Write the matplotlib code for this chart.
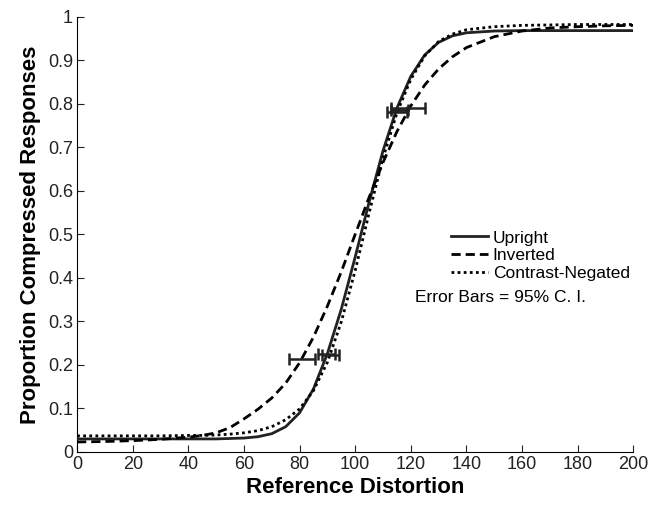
import matplotlib
matplotlib.use("Agg")
import matplotlib.pyplot as plt

plt.rcParams["font.family"] = ["Liberation Sans", "DejaVu Sans"]

# ── data ──────────────────────────────────────────────────────────────────────
distortion = [0, 10, 20, 30, 40, 45, 50, 55, 60, 65, 70, 75, 80, 85, 90, 95,
              100, 105, 110, 115, 120, 125, 130, 135, 140, 150, 160, 170, 180,
              190, 200]

upright = [0.030, 0.030, 0.030, 0.030, 0.030, 0.030, 0.030, 0.031, 0.032,
           0.035, 0.042, 0.058, 0.090, 0.145, 0.226, 0.328, 0.448, 0.574,
           0.692, 0.790, 0.863, 0.912, 0.941, 0.956, 0.963, 0.967, 0.968,
           0.968, 0.968, 0.968, 0.968]

inverted = [0.023, 0.024, 0.026, 0.029, 0.034, 0.038, 0.044, 0.056, 0.076,
            0.098, 0.124, 0.158, 0.205, 0.264, 0.335, 0.414, 0.500, 0.585,
            0.665, 0.736, 0.795, 0.843, 0.880, 0.908, 0.929, 0.954, 0.967,
            0.974, 0.977, 0.979, 0.980]

negated = [0.037, 0.037, 0.037, 0.037, 0.038, 0.038, 0.039, 0.041, 0.044,
           0.049, 0.058, 0.074, 0.099, 0.141, 0.206, 0.299, 0.417, 0.549,
           0.675, 0.779, 0.856, 0.910, 0.943, 0.960, 0.970, 0.977, 0.980,
           0.981, 0.982, 0.982, 0.982]

# 95% C.I. error bars at the 25% / 75% points
eb_x = [81.0, 89.8, 91.0, 115.0, 116.0, 119.0]
eb_y = [0.214, 0.225, 0.223, 0.782, 0.786, 0.790]
eb_err = [4.7, 3.0, 3.0, 3.5, 3.0, 6.0]

fig = plt.figure(figsize=(6.59, 5.05), dpi=100, facecolor="white")
ax = fig.add_axes([0.117, 0.105, 0.844, 0.862])

ax.plot(distortion, upright, "-", color="#222222", linewidth=2.0,
        label="Upright", zorder=3)
ax.plot(distortion, inverted, color="black", linewidth=2.0,
        dashes=(3.3, 1.8), label="Inverted", zorder=3)
ax.plot(distortion, negated, color="black", linewidth=2.0,
        dashes=(1, 1.2), label="Contrast-Negated", zorder=3)

ax.errorbar(eb_x, eb_y, xerr=eb_err, fmt="none", ecolor="#222222",
            elinewidth=1.8, capsize=4.5, capthick=1.8, zorder=4)

ax.set_xlim(0, 200)
ax.set_ylim(0, 1)
ax.set_xticks(range(0, 201, 20))
ax.set_yticks([i / 10 for i in range(11)])
ax.set_yticklabels(["0", "0.1", "0.2", "0.3", "0.4", "0.5", "0.6", "0.7",
                    "0.8", "0.9", "1"])
ax.tick_params(direction="in", length=5, width=0.8, labelsize=13,
               colors="#222222", pad=3)
ax.spines["top"].set_visible(False)
ax.spines["right"].set_visible(False)

ax.set_xlabel("Reference Distortion", fontsize=16, fontweight="bold",
              labelpad=3)
ax.set_ylabel("Proportion Compressed Responses", fontsize=16,
              fontweight="bold", labelpad=5)

ax.legend(loc="upper left", bbox_to_anchor=(0.66, 0.525), frameon=False,
          fontsize=12.5, handlelength=2.1, handletextpad=0.3,
          labelspacing=0.15, borderaxespad=0)
ax.text(0.608, 0.356, "Error Bars = 95% C. I.", transform=ax.transAxes,
        fontsize=12.5, ha="left", va="center")

fig.savefig("out.png", dpi=100)
